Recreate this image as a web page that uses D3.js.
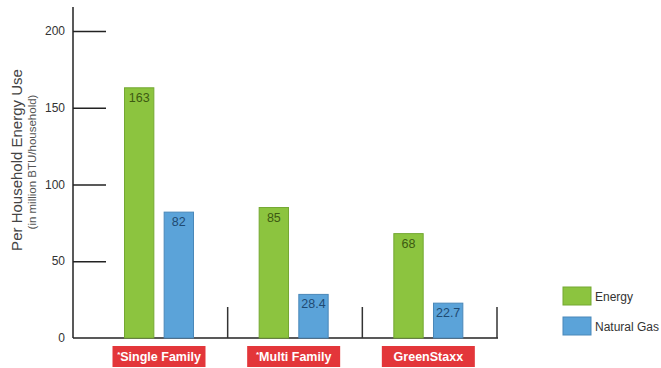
<!DOCTYPE html>
<html><head><meta charset="utf-8">
<script src="https://cdn.jsdelivr.net/npm/d3@7"></script>
<style>body{margin:0;background:#fff}svg{display:block}text{font-family:"Liberation Sans",Arial,sans-serif}</style>
</head><body>
<svg id="c" width="661" height="368"></svg>
<script>
const categories = ["Single Family", "Multi Family", "GreenStaxx"];
const starred = [true, true, false];
const seriesNames = ["Energy", "Natural Gas"];
const energy = [163, 85, 68];
const naturalGas = [82, 28.4, 22.7];
const yTicks = [0, 50, 100, 150, 200];

const colors = {fill: ["#8cc43f", "#5ba3d9"], stroke: ["#74a832", "#4a88b9"], text: ["#3d5a12", "#1f4a72"]};
const svg = d3.select("#c");
const y = d3.scaleLinear().domain([0, 200]).range([338, 31]);
const x = d3.scaleBand().domain(categories).range([93, 497]).paddingInner(0);
const sub = d3.scaleBand().domain(seriesNames).range([31.5, 100.5]).paddingInner(0.26);

// y axis
svg.append("line").attr("x1", 73).attr("x2", 73).attr("y1", 7).attr("y2", 338).attr("stroke", "#222").attr("stroke-width", 1.5);
const yAxis = d3.axisRight(y).tickValues(yTicks).tickSize(33).tickPadding(0).tickFormat("");
const ga = svg.append("g").attr("transform", "translate(73,0)").call(yAxis);
ga.select(".domain").remove();
ga.selectAll(".tick line").attr("stroke", "#222").attr("stroke-width", 1.5);
ga.selectAll(".tick").filter(d => d === 0).select("line").remove();
svg.selectAll(".ylab").data(yTicks).join("text")
  .attr("x", 65).attr("y", d => y(d) + 4).attr("text-anchor", "end")
  .attr("font-size", 12).attr("fill", "#333").text(d => d);

// baseline and separators
svg.append("line").attr("x1", 73).attr("x2", 498).attr("y1", 338).attr("y2", 338).attr("stroke", "#222").attr("stroke-width", 1.5);
svg.selectAll(".sep").data(categories).join("line")
  .attr("x1", d => x(d) + x.bandwidth()).attr("x2", d => x(d) + x.bandwidth())
  .attr("y1", 307).attr("y2", 338).attr("stroke", "#333").attr("stroke-width", 1.5);

// bars
const data = [energy, naturalGas];
seriesNames.forEach((s, si) => {
  const g = svg.append("g");
  g.selectAll("rect").data(categories).join("rect")
    .attr("x", c => x(c) + sub(s)).attr("width", sub.bandwidth())
    .attr("y", (c, i) => y(data[si][i])).attr("height", (c, i) => 338 - y(data[si][i]))
    .attr("fill", colors.fill[si]).attr("stroke", colors.stroke[si]).attr("stroke-width", 1);
  g.selectAll("text").data(categories).join("text")
    .attr("x", c => x(c) + sub(s) + sub.bandwidth() / 2)
    .attr("y", (c, i) => y(data[si][i]) + 14)
    .attr("text-anchor", "middle").attr("font-size", 12.5).attr("fill", colors.text[si])
    .text((c, i) => data[si][i]);
});

// category label boxes
const cg = svg.selectAll(".cat").data(categories).join("g")
  .attr("transform", d => `translate(${x(d) + sub("Energy") + (sub("Natural Gas") + sub.bandwidth() - sub("Energy")) / 2},0)`);
cg.append("rect").attr("x", -46.5).attr("y", 346).attr("width", 93).attr("height", 21).attr("fill", "#e3363a");
const ct = cg.append("text").attr("y", 361).attr("text-anchor", "middle").attr("font-size", 12.5)
  .attr("font-weight", "bold").attr("fill", "#fff");
ct.each(function(d, i) {
  const t = d3.select(this);
  if (starred[i]) t.append("tspan").attr("font-size", 8).attr("dy", -4).text("*");
  t.append("tspan").attr("dy", starred[i] ? 4 : 0).text(d);
});

// y title
svg.append("text").attr("transform", "translate(22,160) rotate(-90)").attr("text-anchor", "middle")
  .attr("font-size", 15).attr("fill", "#444").text("Per Household Energy Use");
svg.append("text").attr("transform", "translate(36,162) rotate(-90)").attr("text-anchor", "middle")
  .attr("font-size", 11.5).attr("fill", "#555").text("(in million BTU/household)");

// legend
const lg = svg.selectAll(".leg").data(seriesNames).join("g")
  .attr("transform", (d, i) => `translate(563,${287 + i * 30})`);
lg.append("rect").attr("width", 28).attr("height", 18)
  .attr("fill", (d, i) => colors.fill[i]).attr("stroke", (d, i) => colors.stroke[i]);
lg.append("text").attr("x", 32).attr("y", 14).attr("font-size", 12).attr("fill", "#333").text(d => d);
</script>
</body></html>
